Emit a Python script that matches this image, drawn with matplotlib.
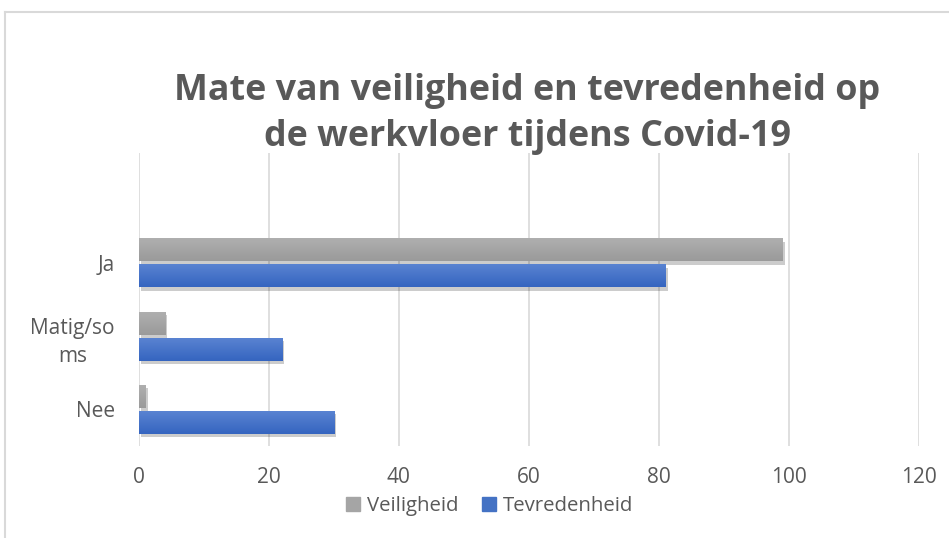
import matplotlib
matplotlib.use("Agg")
import matplotlib.pyplot as plt
import matplotlib.patheffects as pe
from matplotlib.lines import Line2D
from matplotlib.colors import LinearSegmentedColormap
import numpy as np

categories = ["Nee", "Matig/so\nms", "Ja"]
veiligheid = [1, 4, 99]
tevredenheid = [30, 22, 81]
xticks = [0, 20, 40, 60, 80, 100, 120]
title = "Mate van veiligheid en tevredenheid op\nde werkvloer tijdens Covid-19"

plt.rcParams['font.family'] = ['Open Sans', 'DejaVu Sans']
txt = '#595959'
grey = '#A5A5A5'
blue = '#4472C4'

fig = plt.figure(figsize=(9.49, 5.38), dpi=100)
ax = fig.add_axes([138.5/949, 1-446/538, (919-138.5)/949, 293/538])

y = np.arange(len(categories))
h = 0.314
gap = 0.041
shadow = [pe.SimplePatchShadow(offset=(2, -2.5), shadow_rgbFace='#000000', alpha=0.2), pe.Normal()]
b1 = ax.barh(y + gap/2 + h/2, veiligheid, height=h, color=grey, zorder=3)
b2 = ax.barh(y - gap/2 - h/2, tevredenheid, height=h, color=blue, zorder=3)
for b in list(b1) + list(b2):
    b.set_path_effects(shadow)

# subtle vertical gradient (lighter at top) like the original
cm_g = LinearSegmentedColormap.from_list('g', ['#9A9A9A', '#B0B0B0'])
cm_b = LinearSegmentedColormap.from_list('b', ['#3565C0', '#5B84D2'])
grad = np.linspace(0, 1, 64).reshape(-1, 1)
for bars, cm in ((b1, cm_g), (b2, cm_b)):
    for b in bars:
        x0, y0 = b.get_x(), b.get_y()
        w, hh = b.get_width(), b.get_height()
        im = ax.imshow(grad, cmap=cm, aspect='auto', origin='lower',
                       extent=(x0, x0 + w, y0, y0 + hh), zorder=3.5, interpolation='bilinear')
        im.set_clip_path(b)

ax.set_xlim(0, 120)
ax.set_ylim(-0.5, len(categories) + 0.5)
ax.set_xticks(xticks)
ax.set_yticks(y)
ax.set_yticklabels(categories, ha='right', multialignment='center')
for t in ax.get_yticklabels():
    t.set_linespacing(1.45)
ax.tick_params(axis='y', length=0, pad=17, labelsize=15, labelcolor=txt)
ax.tick_params(axis='x', length=0, pad=15, labelsize=15, labelcolor=txt)
ax.grid(axis='x', color='#D9D9D9', linewidth=1.2, zorder=0)
for s in ax.spines.values():
    s.set_visible(False)

fig.text(527/949, 1-114/538, title, ha='center', va='center', fontsize=25.8,
         fontweight='bold', color=txt, linespacing=1.4)

handles = [Line2D([], [], marker='s', linestyle='', markersize=10, color=grey),
           Line2D([], [], marker='s', linestyle='', markersize=10, color=blue)]
fig.legend(handles, ["Veiligheid", "Tevredenheid"], loc='center', bbox_to_anchor=(486/949, 1-506/538),
           ncol=2, frameon=False, fontsize=14.7, labelcolor=txt, handletextpad=0.0, columnspacing=0.75,
           handlelength=1.4)

# chart frame (cropped on right/bottom)
fig.add_artist(Line2D([5/949, 5/949], [0, 1-12/538], color='#D9D9D9', linewidth=1.5, transform=fig.transFigure))
fig.add_artist(Line2D([5/949, 1], [1-12/538, 1-12/538], color='#D9D9D9', linewidth=1.5, transform=fig.transFigure))

fig.savefig("out.png", dpi=100)
